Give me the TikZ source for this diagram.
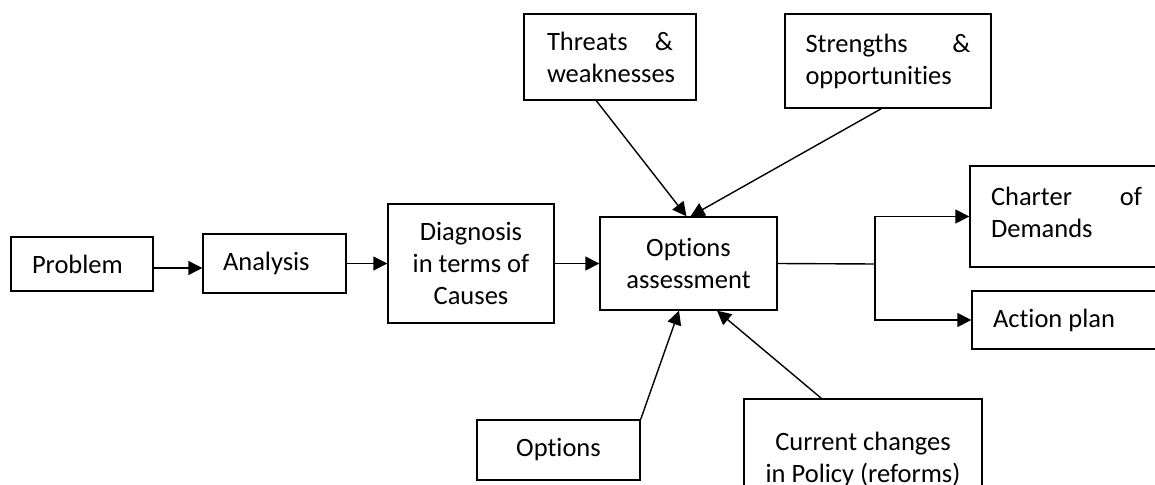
\documentclass[tikz,border=0pt]{standalone}
\usepackage{fontspec}
\setmainfont{Carlito}[Ligatures={NoCommon}]
\usepackage{tikz}
\usetikzlibrary{arrows.meta}
\tolerance=10000
\hbadness=10000
\hyphenpenalty=10000
\tikzset{
  flowbox/.style={draw, line width=1.4pt, rectangle, inner ysep=0pt, font=\fontsize{26.5}{32}\selectfont},
  flowarrow/.style={line width=1.4pt, -{Triangle[length=14pt,width=14pt]}},
  flowline/.style={line width=1.4pt}
}
\begin{document}
\begin{tikzpicture}[x=1pt,y=-1pt]
\clip (0,0) rectangle (1155,484);
\node[flowbox, minimum width=142pt, minimum height=54pt, text width=100pt, inner xsep=21pt, align=flush left] (prob) at (82,264) {Problem};
\node[flowbox, minimum width=143pt, minimum height=59pt, text width=103pt, inner xsep=20pt, align=flush left] (ana) at (274.5,263.5) {Analysis};
\node[flowbox, minimum width=166pt, minimum height=119pt, align=center] (diag) at (471,263.5) {Diagnosis\\in terms of\\Causes};
\node[flowbox, minimum width=177pt, minimum height=93pt, align=center] (opas) at (688.5,263.5) {Options\\assessment};
\node[flowbox, minimum width=172pt, minimum height=86pt, text width=126pt, inner xsep=23pt, align=justify] (thr) at (610,57) {Threats \& weaknesses};
\node[flowbox, minimum width=206pt, minimum height=94pt, text width=165pt, inner xsep=20.5pt, align=justify] (str) at (888,61) {Strengths \& opportunities};
\node[flowbox, minimum width=193pt, minimum height=101pt, text width=151pt, inner xsep=21pt, align=justify] (chart) at (1066.5,216.5) {Charter of Demands\rule[-8pt]{0pt}{8pt}};
\node[flowbox, minimum width=193pt, minimum height=58pt, text width=151pt, inner xsep=21pt, align=flush left] (act) at (1068.5,320) {Action plan};
\node[flowbox, minimum width=163pt, minimum height=60pt, align=center] (opt) at (558.5,450) {Options};
\node[flowbox, minimum width=238pt, minimum height=120pt, align=center] (cur) at (863,459) {Current changes\\in Policy (reforms)};
\coordinate (fork) at (875,264);
\draw[flowarrow] ([yshift=-4pt]prob.east) -- ([yshift=-4pt]prob.east -| ana.west);
\draw[flowarrow] (ana) -- (diag);
\draw[flowarrow] (diag) -- (opas);
\draw[flowline] (opas.east) -- (fork);
\draw[flowarrow] (fork) |- (chart.west);
\draw[flowarrow] (fork) |- (act.west);
\draw[flowarrow] ([xshift=73pt]thr.south west) -- ([xshift=-2pt]opas.north);
\draw[flowarrow] ([xshift=97pt]str.south west) -- ([xshift=2pt]opas.north);
\draw[flowarrow] (opt.north east) -- ([xshift=-9.5pt]opas.south);
\draw[flowarrow] ([xshift=78pt]cur.north west) -- ([xshift=28.5pt]opas.south);
\end{tikzpicture}
\end{document}
